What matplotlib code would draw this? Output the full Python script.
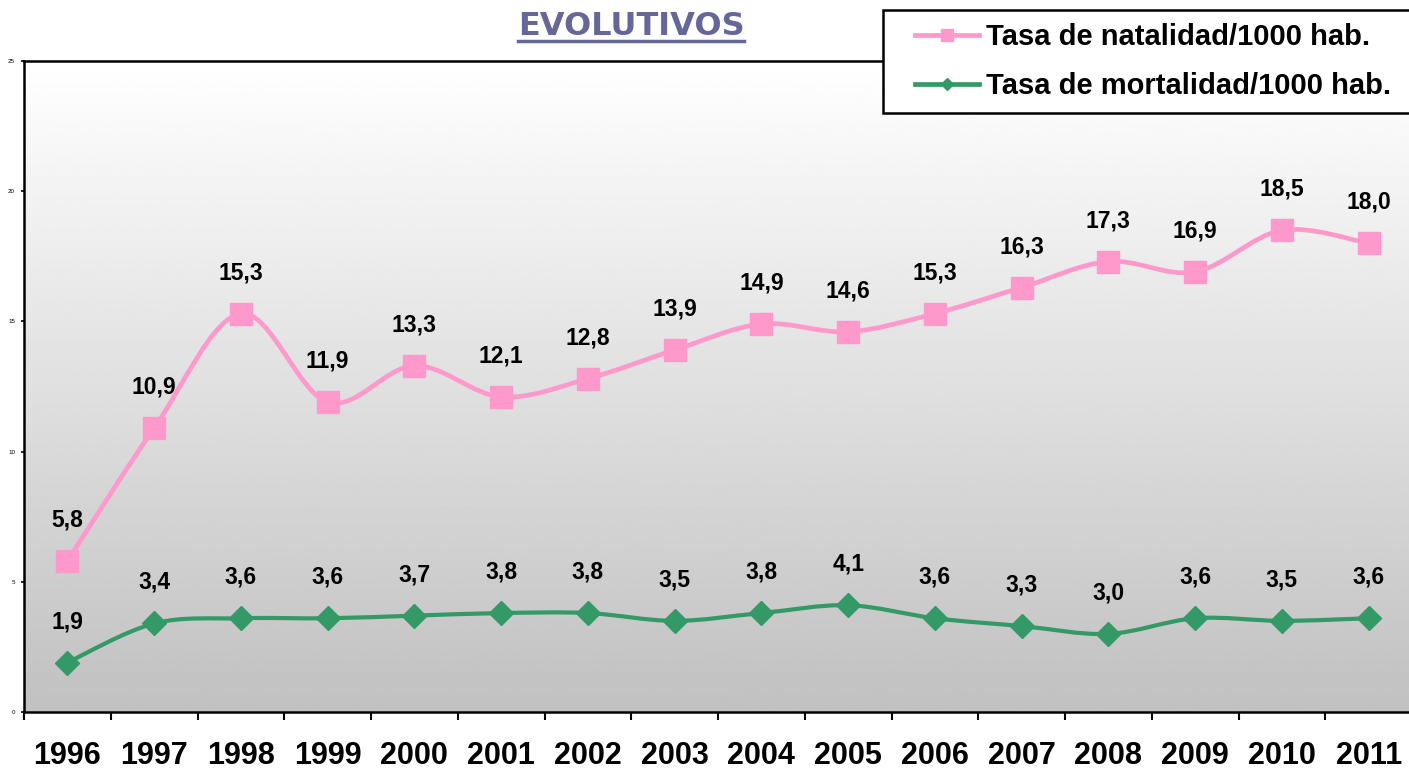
import numpy as np
import matplotlib
matplotlib.use('Agg')
import matplotlib.pyplot as plt
from matplotlib.path import Path
from matplotlib.patches import PathPatch, Rectangle
from matplotlib.lines import Line2D

years = ['1996', '1997', '1998', '1999', '2000', '2001', '2002', '2003',
         '2004', '2005', '2006', '2007', '2008', '2009', '2010', '2011']
natalidad = [5.8, 10.9, 15.3, 11.9, 13.3, 12.1, 12.8, 13.9,
             14.9, 14.6, 15.3, 16.3, 17.3, 16.9, 18.5, 18.0]
mortalidad = [1.9, 3.4, 3.6, 3.6, 3.7, 3.8, 3.8, 3.5,
              3.8, 4.1, 3.6, 3.3, 3.0, 3.6, 3.5, 3.6]
yticks = [0, 5, 10, 15, 20, 25]

PINK = '#ff99cc'
GREEN = '#339966'
TITLE_COL = '#666699'

plt.rcParams['font.family'] = ['Liberation Sans', 'DejaVu Sans']


def smooth_path(x, y):
    # excel-like smoothed line: catmull-rom segments as cubic beziers
    pts = np.column_stack([x, y]).astype(float)
    n = len(pts)
    verts = [pts[0]]
    codes = [Path.MOVETO]
    for i in range(n - 1):
        p0 = pts[max(i - 1, 0)]
        p1 = pts[i]
        p2 = pts[i + 1]
        p3 = pts[min(i + 2, n - 1)]
        c1 = p1 + (p2 - p0) / 6.0
        c2 = p2 - (p3 - p1) / 6.0
        verts += [c1, c2, p2]
        codes += [Path.CURVE4] * 3
    return Path(verts, codes)


W, H = 1409, 776
fig = plt.figure(figsize=(W / 100, H / 100), dpi=100)
ax = fig.add_axes([24 / W, (H - 712) / H, 1388 / W, (712 - 61) / H])

x = np.arange(len(years))
ax.set_xlim(-0.5, len(years) - 0.5)
ax.set_ylim(0, 25)

# gray gradient background
grad = np.linspace(0.755, 1.0, 256).reshape(-1, 1)
ax.imshow(grad, cmap='gray', vmin=0, vmax=1, origin='lower', aspect='auto',
          extent=(-0.5, len(years) - 0.5, 0, 25), zorder=0)

for vals, col, lw in [(natalidad, PINK, 3.4), (mortalidad, GREEN, 3.0)]:
    ax.add_patch(PathPatch(smooth_path(x, vals), fill=False, edgecolor=col,
                           lw=lw, capstyle='round', joinstyle='round', zorder=2))

ax.plot(x, natalidad, ls='none', marker='s', ms=16.5, color=PINK, mec=PINK, zorder=3)
ax.plot(x, mortalidad, ls='none', marker='D', ms=12.5, color=GREEN, mec=GREEN, zorder=3)

for vals in (natalidad, mortalidad):
    for xi, v in zip(x, vals):
        ax.annotate(f'{v:.1f}'.replace('.', ','), (xi, v), xytext=(0, 29.5),
                    textcoords='offset points', ha='center', va='center',
                    fontsize=16.5, fontweight='bold', color='black', zorder=4)

# axes look
ax.set_xticks(np.arange(-0.5, len(years), 1.0))
ax.set_xticklabels([])
ax.set_xticks(x, minor=True)
ax.set_xticklabels(years, minor=True, fontsize=22, fontweight='bold')
ax.tick_params(axis='x', which='major', length=6, width=1.5, direction='out')
ax.tick_params(axis='x', which='minor', length=0, pad=21)
ax.set_yticks(yticks)
ax.set_yticklabels([str(t) for t in yticks], fontsize=4.5)
ax.tick_params(axis='y', length=2.5, width=1.2, pad=4)
for s in ['left', 'bottom', 'top']:
    ax.spines[s].set_linewidth(1.8)
ax.spines['right'].set_visible(False)

# legend box drawn separately, entries without frame
fig.add_artist(Rectangle((883 / W, 1 - 113 / H), 600 / W, 103 / H,
                         transform=fig.transFigure, facecolor='white',
                         edgecolor='black', lw=1.8, zorder=5))
handles = [Line2D([], [], color=PINK, lw=3.4, marker='s', ms=9),
           Line2D([], [], color=GREEN, lw=3.4, marker='D', ms=6.5)]
labels = ['Tasa de natalidad/1000 hab.', 'Tasa de mortalidad/1000 hab.']
leg = fig.legend(handles, labels, loc='upper left',
                 bbox_to_anchor=(915 / W, 1 - 23 / H),
                 borderaxespad=0, borderpad=0, frameon=False,
                 prop={'size': 21, 'weight': 'bold'},
                 handlelength=2.2, handletextpad=0.25, labelspacing=0.72)
leg.set_zorder(6)

# title with underline
title = fig.text(631 / W, 1 - 35 / H, 'EVOLUTIVOS', ha='center', va='baseline',
                 fontsize=23, fontweight='bold', color=TITLE_COL,
                 family='DejaVu Sans')
fig.canvas.draw()
bb = title.get_window_extent()
fig.add_artist(Line2D([bb.x0 / W, bb.x1 / W], [1 - 41 / H, 1 - 41 / H],
                      transform=fig.transFigure, color=TITLE_COL, lw=2.5))

fig.savefig('out.png', dpi=100)
